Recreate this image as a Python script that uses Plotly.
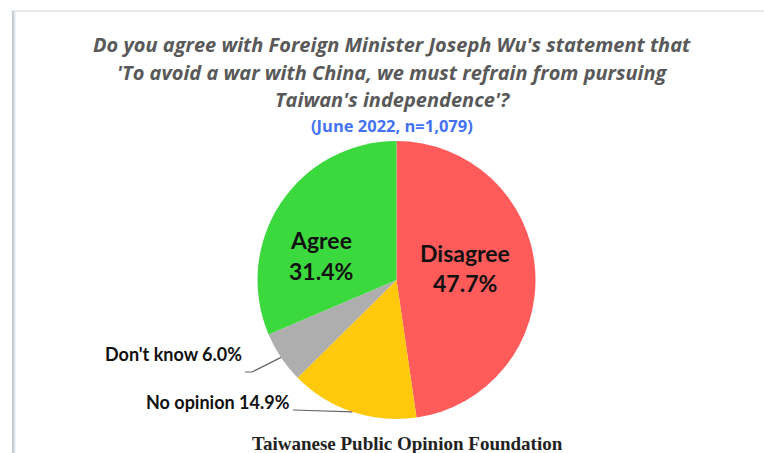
import math
import plotly.graph_objects as go

# Survey results (June 2022, n=1,079)
categories = ["Disagree", "No opinion", "Don't know", "Agree"]
shares = [47.7, 14.9, 6.0, 31.4]
slice_colors = ["#FF5B5B", "#FFC90B", "#AEAEAE", "#3CD93E"]

title_lines = [
    "Do you agree with Foreign Minister Joseph Wu's statement that",
    "'To avoid a war with China, we must refrain from pursuing",
    "Taiwan's independence'?",
]
subtitle = "(June 2022, n=1,079)"
source = "Taiwanese Public Opinion Foundation"

W, H = 764, 453
CX, CY, R = 396.5, 280.0, 139.0


def px(x):
    return x / W


def py(y):
    return 1 - y / H


def edge_point(idx):
    """Point on the rim at the middle of slice idx (clockwise from 12 o'clock)."""
    total = sum(shares)
    start = sum(shares[:idx]) / total
    mid = (start + shares[idx] / total / 2) * 2 * math.pi
    return CX + R * math.sin(mid), CY - R * math.cos(mid)


fig = go.Figure(
    go.Pie(
        labels=categories,
        values=shares,
        sort=False,
        direction="clockwise",
        rotation=0,
        marker=dict(colors=slice_colors, line=dict(width=0)),
        textinfo="none",
        hoverinfo="label+percent",
        domain=dict(x=[px(CX - R), px(CX + R)], y=[py(CY + R), py(CY - R)]),
        showlegend=False,
    )
)

annotations = []
# Title, one annotation per line
for i, line in enumerate(title_lines):
    annotations.append(dict(
        text=f"<b><i>{line}</i></b>", x=px(392), y=py(45 + 27 * i),
        xref="paper", yref="paper", showarrow=False,
        font=dict(family="Open Sans", size=20, color="#595959"),
        xanchor="center", yanchor="middle",
    ))
annotations.append(dict(
    text=f"<b>{subtitle}</b>", x=px(392), y=py(125),
    xref="paper", yref="paper", showarrow=False,
    font=dict(family="Open Sans", size=16.5, color="#4472F2"),
    xanchor="center", yanchor="middle",
))

# Labels inside the two large slices
inside_pos = {"Disagree": (465, 253, 283), "Agree": (321, 240, 271)}
for name, (x, y1, y2) in inside_pos.items():
    v = shares[categories.index(name)]
    for txt, yy in ((name, y1), (f"{v:.1f}%", y2)):
        annotations.append(dict(
            text=f"<b>{txt}</b>", x=px(x), y=py(yy),
            xref="paper", yref="paper", showarrow=False,
            font=dict(family="Lato", size=23, color="#111111"),
            xanchor="center", yanchor="middle",
        ))

# Labels outside the small slices, with leader lines
shapes = []
outside = {
    "Don't know": dict(text_xy=(244, 354), elbow=(252, 372), end=(245, 372)),
    "No opinion": dict(text_xy=(292, 402), elbow=None, end=(293, 410)),
}
for name, cfg in outside.items():
    i = categories.index(name)
    annotations.append(dict(
        text=f"<b>{name} {shares[i]:.1f}%</b>",
        x=px(cfg["text_xy"][0]), y=py(cfg["text_xy"][1]),
        xref="paper", yref="paper", showarrow=False,
        font=dict(family="Lato", size=18, color="#111111"),
        xanchor="right", yanchor="middle",
    ))
    ex, ey = edge_point(i)
    pts = [(ex, ey)]
    if cfg["elbow"]:
        pts.append(cfg["elbow"])
    pts.append(cfg["end"])
    path = "M " + " L ".join(f"{px(a)},{py(b)}" for a, b in pts)
    shapes.append(dict(type="path", path=path, xref="paper", yref="paper",
                       line=dict(color="#666666", width=1.2)))

annotations.append(dict(
    text=f"<b>{source}</b>", x=px(407), y=py(443),
    xref="paper", yref="paper", showarrow=False,
    font=dict(family="Liberation Serif", size=19, color="#222222"),
    xanchor="center", yanchor="middle",
))

# Card frame: light top edge and shaded left edge
shapes += [
    dict(type="line", xref="paper", yref="paper", x0=px(11), x1=1, y0=py(11), y1=py(11),
         line=dict(color="#DCE3EA", width=1.5)),
    dict(type="rect", xref="paper", yref="paper", x0=px(12), x1=px(14), y0=0, y1=py(11),
         fillcolor="#C6CBD0", line=dict(width=0)),
    dict(type="rect", xref="paper", yref="paper", x0=px(14), x1=px(15.5), y0=0, y1=py(11),
         fillcolor="#E3E6E9", line=dict(width=0)),
]

fig.update_layout(
    width=W, height=H,
    margin=dict(l=0, r=0, t=0, b=0),
    paper_bgcolor="white", plot_bgcolor="white",
    annotations=annotations, shapes=shapes,
)

fig.write_html("out.html")
